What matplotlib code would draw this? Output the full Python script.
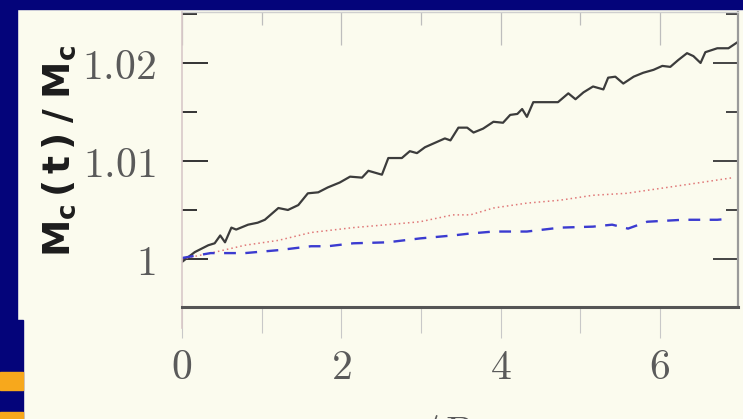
import matplotlib
matplotlib.use("Agg")
import matplotlib.pyplot as plt
from matplotlib.patches import Rectangle
from matplotlib.lines import Line2D
from matplotlib.ticker import MultipleLocator

plt.rcParams["mathtext.fontset"] = "cm"

# mass ratio vs time, three runs
tSolid = [0, 0.16, 0.33, 0.41, 0.48, 0.54, 0.62, 0.68, 0.83, 0.95, 1.04, 1.21, 1.33,
          1.46, 1.58, 1.71, 1.83, 1.98, 2.11, 2.26, 2.34, 2.51, 2.59, 2.76, 2.86, 2.95,
          3.05, 3.30, 3.37, 3.47, 3.58, 3.66, 3.78, 3.91, 4.03, 4.12, 4.21, 4.27, 4.33,
          4.41, 4.54, 4.72, 4.85, 4.94, 5.04, 5.16, 5.29, 5.35, 5.44, 5.54, 5.67, 5.79,
          5.92, 6.03, 6.13, 6.23, 6.34, 6.42, 6.51, 6.57, 6.72, 6.86, 6.97]
mSolid = [0.9997, 1.0007, 1.0014, 1.0016, 1.0024, 1.0017, 1.0032, 1.0030, 1.0035, 1.0037,
          1.0040, 1.0052, 1.0050, 1.0055, 1.0067, 1.0068, 1.0073, 1.0078, 1.0084, 1.0083,
          1.0090, 1.0086, 1.0103, 1.0103, 1.0110, 1.0108, 1.0114, 1.0123, 1.0121, 1.0134,
          1.0134, 1.0129, 1.0133, 1.0140, 1.0139, 1.0147, 1.0148, 1.0153, 1.0145, 1.0160,
          1.0160, 1.0160, 1.0169, 1.0163, 1.0170, 1.0176, 1.0173, 1.0185, 1.0186, 1.0179,
          1.0186, 1.0190, 1.0193, 1.0197, 1.0196, 1.0203, 1.0210, 1.0207, 1.0200, 1.0211,
          1.0215, 1.0215, 1.0221]

tDotted = [0, 0.36, 0.79, 1.21, 1.62, 1.83, 2.15, 2.58, 2.99, 3.40, 3.62, 3.91, 4.33,
           4.75, 5.16, 5.58, 6.09, 6.51, 6.92]
mDotted = [1.0, 1.0006, 1.0014, 1.0019, 1.0027, 1.0029, 1.0032, 1.0035, 1.0038, 1.0045,
           1.0045, 1.0052, 1.0057, 1.0060, 1.0065, 1.0067, 1.0073, 1.0078, 1.0083]

tDashed = [0, 0.36, 0.79, 1.21, 1.62, 1.83, 2.15, 2.58, 2.99, 3.40, 3.62, 3.91, 4.33,
           4.75, 5.16, 5.40, 5.60, 5.84, 6.29, 6.72, 6.87]
mDashed = [1.0001, 1.0006, 1.0006, 1.0009, 1.0013, 1.0013, 1.0016, 1.0017, 1.0021, 1.0024,
           1.0026, 1.0028, 1.0028, 1.0032, 1.0033, 1.0035, 1.0031, 1.0038, 1.0040, 1.0040,
           1.0041]

yTicks = [1.0, 1.01, 1.02]
yTickLabels = ["$1$", "$1.01$", "$1.02$"]
xTicks = [0, 2, 4, 6]
xTickLabels = ["$0$", "$2$", "$4$", "$6$"]

cream = "#fbfbee"
navy = "#04047a"
orange = "#f7a81c"

fig = plt.figure(figsize=(7.43, 4.19), dpi=100, facecolor=cream)

# slide frame
fig.add_artist(Rectangle((0, 410 / 419), 1, 9 / 419, transform=fig.transFigure,
                         color=navy, zorder=0))
fig.add_artist(Rectangle((0, 99 / 419), 17 / 743, 1, transform=fig.transFigure,
                         color=navy, zorder=0))
fig.add_artist(Rectangle((0, 0), 23 / 743, 99 / 419, transform=fig.transFigure,
                         color=navy, zorder=0))
fig.add_artist(Rectangle((0, 29 / 419), 23 / 743, 18 / 419, transform=fig.transFigure,
                         color=orange, zorder=1))
fig.add_artist(Rectangle((0, 0), 23 / 743, 7 / 419, transform=fig.transFigure,
                         color=orange, zorder=1))

ax = fig.add_axes([182 / 743, 112 / 419, 556 / 743, 295 / 419], facecolor=cream)

ax.plot(tSolid, mSolid, color="#3c3c3c", lw=1.6)
ax.plot(tDotted, mDotted, color="#e07878", lw=1.1, ls=(0, (1, 2)))
ax.plot(tDashed, mDashed, color="#3b3bd0", lw=1.7, ls=(0, (5, 4)))

ax.set_xlim(0, 6.98)
ax.set_ylim(0.9951, 1.0252)

ax.set_xticks(xTicks, labels=xTickLabels)
ax.xaxis.set_minor_locator(MultipleLocator(1))
ax.set_yticks(yTicks, labels=yTickLabels)
ax.yaxis.set_minor_locator(MultipleLocator(0.005))

ax.tick_params(axis="x", which="both", direction="out", bottom=True, top=False,
               color="#c8c8c8", width=0.8, labelsize=30, labelcolor="#5a5a5a", pad=6)
ax.tick_params(axis="x", which="major", length=22)
ax.tick_params(axis="x", which="minor", length=19)
ax.tick_params(axis="y", which="both", direction="in", left=True, right=False,
               color="#333333", width=1.4, labelsize=30, labelcolor="#5a5a5a", pad=19)
ax.tick_params(axis="y", which="major", length=19)
ax.tick_params(axis="y", which="minor", length=11)

ax.spines["bottom"].set_color("#555555")
ax.spines["bottom"].set_linewidth(2.2)
ax.spines["left"].set_visible(False)
ax.spines["top"].set_color("#cfcfcf")
ax.spines["top"].set_linewidth(1.0)
ax.spines["right"].set_color("#9a9a9a")
ax.spines["right"].set_linewidth(1.6)

# left frame line runs a little below the bottom axis
ax.add_artist(Line2D([0, 0], [1, -0.07], transform=ax.transAxes, color="#d9c9c9",
                     lw=1.2, clip_on=False))

# ticks along the top and right edges point inward
top = ax.secondary_xaxis("top")
top.set_xticks(xTicks, labels=[])
top.xaxis.set_minor_locator(MultipleLocator(1))
top.tick_params(which="both", direction="in", color="#bdbdbd", width=0.9)
top.tick_params(which="major", length=24)
top.tick_params(which="minor", length=9)
top.spines["top"].set_visible(False)

right = ax.secondary_yaxis("right")
right.set_yticks(yTicks, labels=[])
right.yaxis.set_minor_locator(MultipleLocator(0.005))
right.tick_params(which="both", direction="in", color="#444444", width=1.4)
right.tick_params(which="major", length=18)
right.tick_params(which="minor", length=9)
right.spines["right"].set_visible(False)

ax.set_ylabel(r"$\mathbf{M_c\,(\,t\,)\;/\;M_c}$", math_fontfamily="dejavusans",
              fontsize=27, color="#1c1c1c")
ax.yaxis.set_label_coords(-0.187, 0.53)
ax.set_xlabel("$t/P$", fontsize=30, color="#5a5a5a")
ax.xaxis.set_label_coords(0.46, -0.36)

fig.savefig("out.png", dpi=100, facecolor=cream)
